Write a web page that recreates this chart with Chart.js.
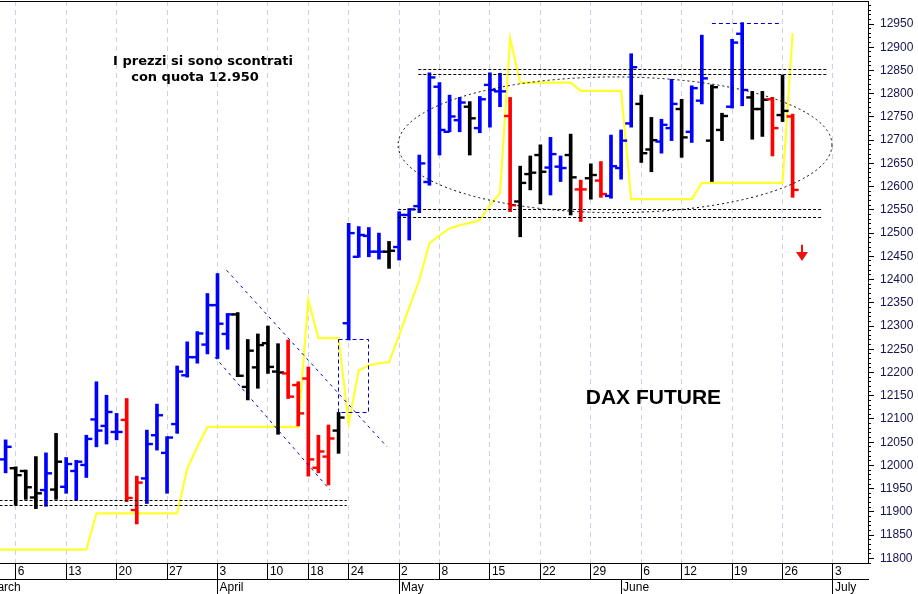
<!DOCTYPE html>
<html>
<head>
<meta charset="utf-8">
<script src="https://cdn.jsdelivr.net/npm/chart.js@4.4.0/dist/chart.umd.min.js"></script>
<style>
  html, body { margin: 0; padding: 0; background: #fff; }
  #wrap { width: 918px; height: 594px; }
</style>
</head>
<body>
<div id="wrap"><canvas id="chart" width="918" height="594"></canvas></div>
<script>
// trading days 1 March - 7 July 2017 (Eurex holidays left out)
const days = [
  "01.03", "02.03", "03.03",
  "06.03", "07.03", "08.03", "09.03", "10.03",
  "13.03", "14.03", "15.03", "16.03", "17.03",
  "20.03", "21.03", "22.03", "23.03", "24.03",
  "27.03", "28.03", "29.03", "30.03", "31.03",
  "03.04", "04.04", "05.04", "06.04", "07.04",
  "10.04", "11.04", "12.04", "13.04",
  "18.04", "19.04", "20.04", "21.04",
  "24.04", "25.04", "26.04", "27.04", "28.04",
  "02.05", "03.05", "04.05", "05.05",
  "08.05", "09.05", "10.05", "11.05", "12.05",
  "15.05", "16.05", "17.05", "18.05", "19.05",
  "22.05", "23.05", "24.05", "25.05", "26.05",
  "29.05", "30.05", "31.05",
  "01.06", "02.06",
  "06.06", "07.06", "08.06", "09.06",
  "12.06", "13.06", "14.06", "15.06", "16.06",
  "19.06", "20.06", "21.06", "22.06", "23.06",
  "26.06", "27.06", "28.06", "29.06", "30.06",
  "03.07", "04.07", "05.07", "06.07", "07.07"
];

// OHLC, same index as days (null = no bar)
const opens = [null, null,
  12013, 11994, 11988, 11931, 11947, 11948, 11954, 11988, 12001, 12099,
  12085, 12072, 12098, 11904, 11972, 12065, 12027, 12089, 12194, 12233,
  12260, 12345, 12283, 12325, 12169, 12211, 12263, 12202, 12198, 12173,
  12187, 11995, 12019, 12075, 12306, 12449, 12494, 12460, 12460, 12470,
  12539, 12558, 12610, 12815, 12718, 12743, 12772, 12726, 12819, 12805,
  12752, 12568, 12627, 12668, 12641, 12643, 12668, 12594, 12618, 12613,
  12580, 12640, 12736, 12778, 12680, 12697, 12726, 12767, 12718, 12785,
  12699, 12722, 12772, 12929, 12792, 12767, 12788, 12754, 12751];
const highs = [null, null,
  12055, 11997, 11990, 12019, 12027, 12069, 12017, 12011, 12065, 12180,
  12151, 12112, 12144, 11977, 12076, 12132, 12062, 12214, 12266, 12288,
  12370, 12413, 12327, 12329, 12271, 12283, 12300, 12262, 12270, 12180,
  12212, 12065, 12087, 12114, 12521, 12514, 12512, 12500, 12482, 12546,
  12553, 12668, 12845, 12824, 12797, 12792, 12783, 12794, 12845, 12844,
  12792, 12644, 12666, 12690, 12706, 12666, 12713, 12614, 12649, 12654,
  12711, 12722, 12886, 12797, 12749, 12745, 12831, 12788, 12817, 12926,
  12819, 12758, 12917, 12953, 12805, 12805, 12792, 12840, 12756];
const lows = [null, null,
  11984, 11915, 11927, 11907, 11912, 11927, 11940, 11925, 11974, 12040,
  12046, 12055, 11922, 11874, 11918, 12033, 11940, 12069, 12190, 12220,
  12240, 12230, 12250, 12191, 12141, 12166, 12198, 12067, 12144, 12085,
  11977, 11984, 11958, 12026, 12270, 12448, 12449, 12444, 12424, 12442,
  12485, 12544, 12603, 12668, 12718, 12718, 12668, 12716, 12728, 12772,
  12546, 12492, 12593, 12563, 12582, 12611, 12539, 12525, 12573, 12577,
  12575, 12616, 12728, 12652, 12632, 12672, 12699, 12663, 12695, 12778,
  12611, 12699, 12769, 12774, 12702, 12708, 12666, 12740, 12577];
const closes = [null, null,
  12040, 11979, 11953, 11940, 11983, 12008, 12003, 12008, 12057, 12075,
  12115, 12072, 11930, 11963, 12046, 12108, 12060, 12202, 12233, 12284,
  12345, 12305, 12325, 12193, 12247, 12259, 12212, 12200, 12148, 12112,
  12013, 12030, 12058, 12103, 12500, 12496, 12460, 12460, 12462, 12539,
  12551, 12650, 12835, 12722, 12751, 12781, 12747, 12788, 12808, 12805,
  12560, 12608, 12630, 12632, 12670, 12640, 12620, 12594, 12625, 12584,
  12644, 12699, 12857, 12672, 12700, 12733, 12778, 12706, 12812, 12833,
  12814, 12752, 12910, 12808, 12767, 12787, 12726, 12763, 12593];
// bar colour code: B blue, K black, R red
const tone = [null, null,
  "B", "K", "K", "K", "B", "K", "B", "B", "B", "B",
  "B", "B", "R", "R", "B", "B", "B", "B", "B", "B",
  "B", "B", "B", "K", "K", "K", "K", "K", "R", "R",
  "R", "R", "R", "K", "B", "B", "B", "B", "K", "B",
  "B", "B", "B", "B", "B", "B", "K", "B", "B", "B",
  "R", "K", "K", "K", "B", "B", "K", "R", "K", "R",
  "B", "B", "B", "K", "K", "B", "B", "K", "B", "B",
  "K", "K", "B", "B", "K", "K", "R", "K", "R"];
// yellow indicator line
const yellow = [
  11819, 11819, 11819, 11819, 11819, 11819, 11819, 11819, 11819, 11819,
  11819, 11897, 11897, 11897, 11897, 11897, 11897, 11897, 11897, 11897,
  11993, 12040, 12083, 12083, 12083, 12083, 12083, 12083, 12083, 12083,
  12083, 12083, 12356, 12274, 12274, 12274, 12090, 12205, 12215, 12220,
  12222, 12280, 12340, 12399, 12478, 12495, 12510, 12517, 12522, 12528,
  12560, 12586, 12919, 12824, 12824, 12824, 12824, 12824, 12824, 12806,
  12806, 12806, 12806, 12806, 12573, 12573, 12573, 12573, 12573, 12573,
  12573, 12608, 12608, 12608, 12608, 12608, 12608, 12608, 12608, 12608,
  12930];

// axis labels
const weekTicks = [3, 8, 13, 18, 23, 28, 32, 36, 41, 45, 50, 55, 60, 65, 69, 74, 79, 84];
const monthTicks = [0, 23, 41, 63, 84];
const monthNames = ["March", "April", "May", "June", "July"];

// drawn studies: [from day, to day, price]
const supportLines = [
  [1.4, 35.8, 11925], [1.4, 35.8, 11914],
  [42.9, 83.5, 12853], [42.9, 83.5, 12842],
  [40.9, 83.0, 12551], [40.9, 83.0, 12535]
];
const topLine = [72.0, 78.9, 12952];
// channel: [day, price, day, price]
const channel = [[23.9, 12420, 39.8, 12040], [22.75, 12233, 34.15, 11947]];
const gapBox = [34.97, 12273, 37.95, 12114];
const range = { day: 62.4, price: 12690, days: 21.5, points: 146 };
const note = { days: [21.56, 20.77], prices: [12868, 12834], lines: ["I prezzi si sono scontrati", "con quota 12.950"] };
const title = { day: 66.2, price: 12145, text: "DAX FUTURE" };
const arrow = { day: 80.9, top: 12475, bottom: 12440 };

const colours = { B: "#0000ff", K: "#000000", R: "#ff0000" };
const dayMin = 1.444, dayMax = 87.47;

const ranges = [], openPts = [], closePts = [], barCols = [];
highs.forEach((h, i) => {
  if (h == null) return;
  ranges.push({ x: i, y: [lows[i], h] });
  openPts.push({ x: i - 0.3, y: opens[i] });
  closePts.push({ x: i + 0.3, y: closes[i] });
  barCols.push(colours[tone[i]]);
});
const yellowPts = yellow.map((v, i) => ({ x: i, y: v }));

const marks = {
  id: "marks",
  afterDatasetsDraw(chart) {
    const { ctx, chartArea: a, scales: { x, y } } = chart;
    const px = (v) => x.getPixelForValue(v);
    const py = (v) => y.getPixelForValue(v);
    ctx.save();
    ctx.beginPath();
    ctx.rect(a.left, a.top, a.right - a.left, a.bottom - a.top);
    ctx.clip();
    ctx.lineWidth = 1;

    ctx.strokeStyle = "#000";
    ctx.setLineDash([3, 2]);
    supportLines.forEach(([d0, d1, p]) => {
      const yy = Math.round(py(p)) + 0.5;
      ctx.beginPath();
      ctx.moveTo(px(d0), yy);
      ctx.lineTo(px(d1), yy);
      ctx.stroke();
    });

    ctx.strokeStyle = "#0000cc";
    ctx.setLineDash([4, 3]);
    {
      const yy = Math.round(py(topLine[2])) + 0.5;
      ctx.beginPath();
      ctx.moveTo(px(topLine[0]), yy);
      ctx.lineTo(px(topLine[1]), yy);
      ctx.stroke();
    }
    ctx.setLineDash([3, 4]);
    channel.forEach(([d0, p0, d1, p1]) => {
      ctx.beginPath();
      ctx.moveTo(px(d0), py(p0));
      ctx.lineTo(px(d1), py(p1));
      ctx.stroke();
    });
    ctx.setLineDash([4, 3]);
    {
      const x0 = Math.round(px(gapBox[0])) + 0.5, x1 = Math.round(px(gapBox[2])) + 0.5;
      const y0 = Math.round(py(gapBox[1])) + 0.5, y1 = Math.round(py(gapBox[3])) + 0.5;
      ctx.strokeRect(x0, y0, x1 - x0, y1 - y0);
    }

    ctx.strokeStyle = "#000";
    ctx.setLineDash([2, 3]);
    ctx.beginPath();
    ctx.ellipse(px(range.day), py(range.price),
      px(range.day + range.days) - px(range.day),
      py(range.price - range.points) - py(range.price), 0, 0, Math.PI * 2);
    ctx.stroke();
    ctx.setLineDash([]);

    // red arrow
    const ax = Math.round(px(arrow.day));
    const at = py(arrow.top), ab = py(arrow.bottom);
    ctx.fillStyle = "#ee1111";
    ctx.fillRect(ax - 1, at, 2, (ab - at) * 0.55);
    ctx.beginPath();
    ctx.moveTo(ax - 6, at + (ab - at) * 0.45);
    ctx.lineTo(ax + 6, at + (ab - at) * 0.45);
    ctx.lineTo(ax, ab);
    ctx.closePath();
    ctx.fill();

    ctx.fillStyle = "#000";
    ctx.textAlign = "center";
    ctx.textBaseline = "middle";
    ctx.font = "bold 13px 'DejaVu Sans', Verdana, sans-serif";
    note.lines.forEach((t, k) => ctx.fillText(t, px(note.days[k]), py(note.prices[k])));
    ctx.font = "bold 21px 'Liberation Sans', Arial, sans-serif";
    ctx.fillText(title.text, px(title.day), py(title.price));
    ctx.restore();

    // top frame line
    ctx.save();
    ctx.strokeStyle = "#000";
    ctx.lineWidth = 1;
    ctx.beginPath();
    ctx.moveTo(a.left, a.top + 0.5);
    ctx.lineTo(a.right, a.top + 0.5);
    ctx.stroke();
    ctx.restore();
  }
};

const axisFont = { family: "'Liberation Sans', Arial, sans-serif", size: 12 };
const noPad = (s) => { s.paddingLeft = 0; s.paddingRight = 0; s.paddingTop = 0; s.paddingBottom = 0; };

new Chart(document.getElementById("chart"), {
  type: "bar",
  data: {
    datasets: [
      {
        type: "bar",
        data: ranges,
        backgroundColor: barCols,
        barThickness: 3,
        borderWidth: 0,
        order: 1
      },
      {
        type: "line",
        data: openPts,
        showLine: false,
        pointStyle: "line",
        pointRadius: 3,
        pointBorderWidth: 2.4,
        pointBorderColor: barCols,
        order: 0
      },
      {
        type: "line",
        data: closePts,
        showLine: false,
        pointStyle: "line",
        pointRadius: 3,
        pointBorderWidth: 2.4,
        pointBorderColor: barCols,
        order: 0
      },
      {
        type: "line",
        data: yellowPts,
        borderColor: "#ffff2e",
        borderWidth: 2.2,
        pointRadius: 0,
        tension: 0,
        order: 3
      }
    ]
  },
  options: {
    responsive: false,
    animation: false,
    events: [],
    layout: { autoPadding: false, padding: { top: 1, left: 0, right: 0, bottom: 0 } },
    plugins: { legend: { display: false }, tooltip: { enabled: false } },
    scales: {
      x: {
        type: "linear",
        position: "bottom",
        offset: false,
        min: dayMin,
        max: dayMax,
        afterBuildTicks: (s) => { s.ticks = weekTicks.map((v) => ({ value: v })); },
        afterFit: (s) => { s.height = 16; noPad(s); },
        ticks: {
          autoSkip: false,
          maxRotation: 0,
          align: "start",
          labelOffset: 2,
          padding: -15,
          color: "#000",
          font: axisFont,
          callback: (v) => String(parseInt(days[v], 10))
        },
        grid: {
          offset: false,
          color: "#cfcfe8",
          tickColor: "#000",
          tickLength: 16,
          tickBorderDash: []
        },
        border: { display: true, color: "#000", width: 1, dash: [5, 4] }
      },
      month: {
        type: "linear",
        position: "bottom",
        offset: false,
        min: dayMin,
        max: dayMax,
        afterBuildTicks: (s) => { s.ticks = monthTicks.map((v) => ({ value: v })); },
        afterFit: (s) => { s.height = 15; noPad(s); },
        ticks: {
          autoSkip: false,
          maxRotation: 0,
          align: "start",
          labelOffset: 2,
          padding: -14,
          color: "#000",
          font: axisFont,
          callback: (v) => monthNames[monthTicks.indexOf(v)]
        },
        grid: { offset: false, drawOnChartArea: false, tickColor: "#000", tickLength: 15 },
        border: { display: true, color: "#000", width: 1 }
      },
      minor: {
        type: "linear",
        position: "right",
        weight: 0,
        min: 11790,
        max: 12999.5,
        afterFit: (s) => { s.width = 0; noPad(s); },
        ticks: { stepSize: 10, includeBounds: false, display: false },
        grid: { drawOnChartArea: false, tickColor: "#000", tickLength: 3 },
        border: { display: false }
      },
      y: {
        type: "linear",
        position: "right",
        weight: 1,
        min: 11790,
        max: 12999.5,
        afterFit: (s) => { s.width = 50; noPad(s); },
        ticks: {
          stepSize: 50,
          includeBounds: false,
          padding: 6,
          color: "#141450",
          font: axisFont,
          callback: (v) => String(v)
        },
        grid: { drawOnChartArea: false, tickColor: "#000", tickLength: 6 },
        border: { display: true, color: "#000", width: 1 }
      }
    }
  },
  plugins: [marks]
});
</script>
</body>
</html>
